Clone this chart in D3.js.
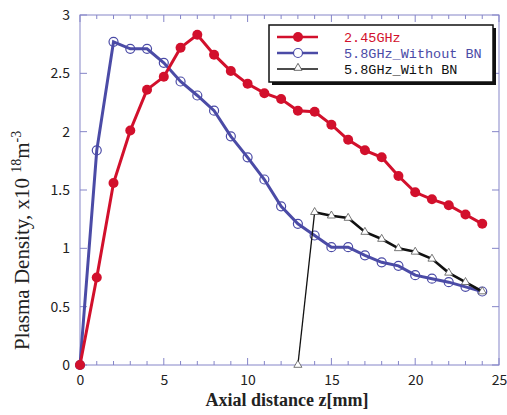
<!DOCTYPE html>
<html lang="en">
<head>
  <meta charset="UTF-8">
  <title>Plasma Density vs Axial Distance</title>
  <script src="https://d3js.org/d3.v7.min.js"></script>
  <style>
    body {
      margin: 0;
      background: #fff;
    }
    #chart {
      display: block;
    }
  </style>
</head>
<body>
  <svg id="chart" width="507" height="415"></svg>

  <script>
    // Data (z in mm, density in 1e18 m^-3)
    const zGHz245 = d3.range(0, 25);
    const densGHz245 = [0, 0.75, 1.56, 2.01, 2.36, 2.47, 2.72, 2.83, 2.66, 2.52, 2.41, 2.33, 2.28, 2.18, 2.17, 2.06, 1.93, 1.84, 1.78, 1.62, 1.48, 1.42, 1.37, 1.29, 1.21];

    const zNoBN = d3.range(0, 25);
    const densNoBN = [0, 1.84, 2.77, 2.71, 2.71, 2.59, 2.43, 2.31, 2.18, 1.96, 1.78, 1.59, 1.36, 1.21, 1.11, 1.01, 1.01, 0.94, 0.88, 0.85, 0.77, 0.74, 0.71, 0.67, 0.63];

    const zWithBN = d3.range(13, 25);
    const densWithBN = [0, 1.31, 1.28, 1.26, 1.14, 1.08, 1.00, 0.97, 0.91, 0.79, 0.71, 0.63];

    const xTicks = [0, 5, 10, 15, 20, 25];
    const yTicks = [0, 0.5, 1, 1.5, 2, 2.5, 3];

    const legendLabels = ["2.45GHz", "5.8GHz_Without BN", "5.8GHz_With BN"];
    const red = "#d2102c", blue = "#4b4ba6", black = "#111", frameColor = "#8585c8";

    const svg = d3.select("#chart");
    const margin = { top: 15, right: 8, bottom: 50, left: 80 };
    const width = 419, height = 350;

    const g = svg.append("g")
                 .attr("transform", `translate(${margin.left}, ${margin.top})`);

    const x = d3.scaleLinear().domain([0, 25]).range([0, width]);
    const y = d3.scaleLinear().domain([0, 3]).range([height, 0]);

    // Frame and ticks (ticks point inward)
    g.append("rect")
     .attr("width", width).attr("height", height)
     .attr("fill", "none").attr("stroke", frameColor).attr("stroke-width", 1);

    const minorX = d3.range(0, 26);
    minorX.forEach(v => {
      const len = v % 5 === 0 ? 7 : 4;
      g.append("line").attr("x1", x(v)).attr("x2", x(v))
       .attr("y1", height).attr("y2", height - len)
       .attr("stroke", frameColor);
      g.append("line").attr("x1", x(v)).attr("x2", x(v))
       .attr("y1", 0).attr("y2", len)
       .attr("stroke", frameColor);
    });
    yTicks.forEach(v => {
      g.append("line").attr("x1", 0).attr("x2", 7)
       .attr("y1", y(v)).attr("y2", y(v)).attr("stroke", frameColor);
      g.append("line").attr("x1", width).attr("x2", width - 7)
       .attr("y1", y(v)).attr("y2", y(v)).attr("stroke", frameColor);
    });

    // Tick labels via axes, with lines hidden
    const xAxis = g.append("g")
     .attr("transform", `translate(0, ${height})`)
     .call(d3.axisBottom(x).tickValues(xTicks).tickSize(0).tickPadding(10));
    const yAxis = g.append("g")
     .call(d3.axisLeft(y).tickValues(yTicks).tickSize(0).tickPadding(10)
       .tickFormat(d => String(d)));
    [xAxis, yAxis].forEach(a => {
      a.select(".domain").remove();
      a.selectAll("text")
       .attr("font-family", "'Noto Sans CJK JP', 'DejaVu Sans', sans-serif")
       .attr("font-size", 14).attr("fill", "#222");
    });

    // Axis titles
    svg.append("text")
       .attr("x", 287).attr("y", 406)
       .attr("text-anchor", "middle")
       .attr("font-family", "'Liberation Serif', serif")
       .attr("font-weight", "bold")
       .attr("font-size", 18)
       .attr("fill", "#222")
       .text("Axial distance z[mm]");

    const yTitle = svg.append("text")
       .attr("transform", "translate(29, 350) rotate(-90)")
       .attr("text-anchor", "start")
       .attr("font-family", "'Liberation Serif', serif")
       .attr("font-size", 21)
       .attr("fill", "#222");
    yTitle.append("tspan").text("Plasma Density, x10 ");
    yTitle.append("tspan").attr("font-size", 14).attr("dy", -8).text("18");
    yTitle.append("tspan").attr("dy", 8).text("m");
    yTitle.append("tspan").attr("font-size", 14).attr("dy", -8).text("-3");

    const line = d3.line().x(d => x(d[0])).y(d => y(d[1]));

    // 5.8GHz without BN: open circles
    const noBN = zNoBN.map((z, i) => [z, densNoBN[i]]);
    g.append("path").datum(noBN).attr("d", line)
     .attr("fill", "none").attr("stroke", blue).attr("stroke-width", 3);
    g.selectAll(".noBN").data(noBN).enter().append("circle")
     .attr("class", "noBN")
     .attr("cx", d => x(d[0])).attr("cy", d => y(d[1])).attr("r", 4.5)
     .attr("fill", "none").attr("stroke", blue).attr("stroke-width", 1.2);

    // 5.8GHz with BN: open triangles, thin first segment
    const withBN = zWithBN.map((z, i) => [z, densWithBN[i]]);
    g.append("path").datum(withBN.slice(0, 2)).attr("d", line)
     .attr("fill", "none").attr("stroke", black).attr("stroke-width", 1.3);
    g.append("path").datum(withBN.slice(1)).attr("d", line)
     .attr("fill", "none").attr("stroke", black).attr("stroke-width", 2.6);
    const tri = d3.symbol().type(d3.symbolTriangle).size(28);
    g.selectAll(".withBN").data(withBN).enter().append("path")
     .attr("class", "withBN")
     .attr("transform", d => `translate(${x(d[0])}, ${y(d[1])})`)
     .attr("d", tri)
     .attr("fill", "#fff").attr("stroke", "#555").attr("stroke-width", 0.8);

    // 2.45GHz: filled circles
    const ghz245 = zGHz245.map((z, i) => [z, densGHz245[i]]);
    g.append("path").datum(ghz245).attr("d", line)
     .attr("fill", "none").attr("stroke", red).attr("stroke-width", 3);
    g.selectAll(".ghz245").data(ghz245).enter().append("circle")
     .attr("class", "ghz245")
     .attr("cx", d => x(d[0])).attr("cy", d => y(d[1])).attr("r", 5)
     .attr("fill", red);

    // Legend box with shadow
    const lg = svg.append("g").attr("transform", "translate(269, 25)");
    lg.append("rect").attr("x", 3).attr("y", 3).attr("width", 224).attr("height", 57)
      .attr("fill", "#111");
    lg.append("rect").attr("width", 224).attr("height", 57)
      .attr("fill", "#fff").attr("stroke", "#111").attr("stroke-width", 1.5);

    const colors = [red, blue, black];
    legendLabels.forEach((label, i) => {
      const ly = 12 + i * 16;
      lg.append("line").attr("x1", 8).attr("x2", 49).attr("y1", ly).attr("y2", ly)
        .attr("stroke", colors[i]).attr("stroke-width", i === 2 ? 1.5 : 2.5);
      if (i === 0) {
        lg.append("circle").attr("cx", 29).attr("cy", ly).attr("r", 5).attr("fill", red);
      } else if (i === 1) {
        lg.append("circle").attr("cx", 29).attr("cy", ly).attr("r", 4.5)
          .attr("fill", "#fff").attr("stroke", blue).attr("stroke-width", 1.2);
      } else {
        lg.append("path").attr("transform", `translate(29, ${ly - 1})`).attr("d", tri)
          .attr("fill", "#fff").attr("stroke", "#444").attr("stroke-width", 0.8);
      }
      lg.append("text").attr("x", 75).attr("y", ly + 5)
        .attr("font-family", "'Liberation Mono', 'DejaVu Sans Mono', monospace")
        .attr("font-size", 13.5)
        .attr("fill", colors[i])
        .text(label);
    });
  </script>
</body>
</html>
